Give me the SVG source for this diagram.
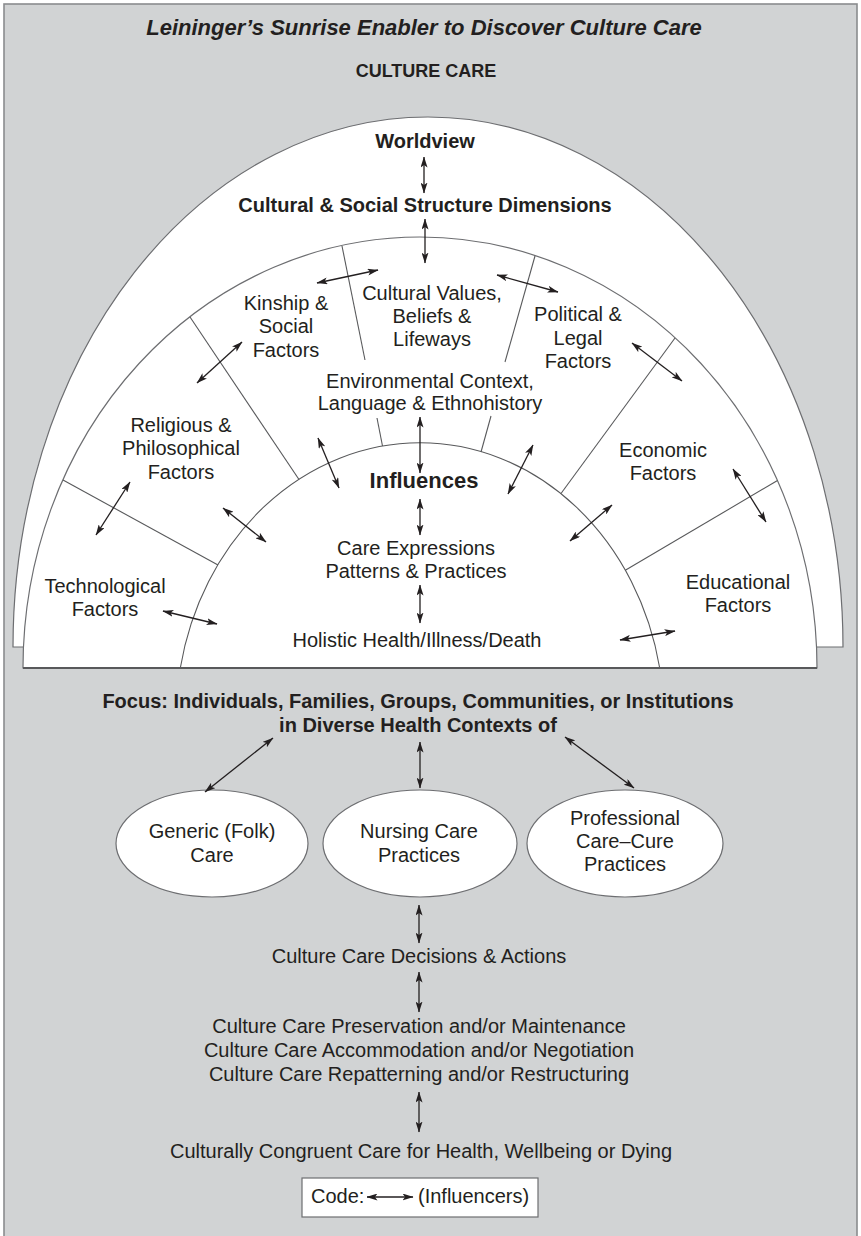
<svg xmlns="http://www.w3.org/2000/svg" width="861" height="1236" viewBox="0 0 861 1236">
<defs>
<style>
text{font-family:"Liberation Sans",Arial,Helvetica,sans-serif;fill:#231f20;text-anchor:middle}
.t{font-size:20px}
.b{font-size:20px;font-weight:bold}
.edge{fill:#fff;stroke:#6d6e71;stroke-width:1.2}
.div{fill:none;stroke:#58595b;stroke-width:1.1}
.arr{fill:none;stroke:#231f20;stroke-width:1.3;marker-start:url(#ah);marker-end:url(#ah)}
</style>
<marker id="ah" viewBox="0 0 11 7" refX="10.5" refY="3.5" markerWidth="11" markerHeight="7" markerUnits="userSpaceOnUse" orient="auto-start-reverse">
<path d="M0,0 L11,3.5 L0,7 L2.6,3.5 Z" fill="#231f20"/>
</marker>
</defs>

<rect id="frame" x="4" y="4" width="853" height="1240" fill="#d1d3d4" stroke="#8a8c8e" stroke-width="1.6"/>

<g id="title">
<text x="424" y="35" style="font-size:22px;font-weight:bold;font-style:italic">Leininger’s Sunrise Enabler to Discover Culture Care</text>
<text x="426" y="77" style="font-size:18px;font-weight:bold">CULTURE CARE</text>
</g>

<g id="sunrise">
<path class="edge" d="M13,647 A415,530 0 0 1 843,647 Z"/>
<path class="edge" d="M23,668 A397,431 0 0 1 817,668 Z"/>
<line x1="23" y1="668" x2="817" y2="668" stroke="#58595b" stroke-width="1.8"/>
<path class="div" d="M180.3,668 A244,277 0 0 1 659.7,668"/>
<g id="dividers">
<line class="div" x1="63" y1="480" x2="218" y2="565"/>
<line class="div" x1="190" y1="317" x2="299" y2="479.5"/>
<line class="div" x1="342" y1="246" x2="365" y2="360"/>
<line class="div" x1="377" y1="418" x2="382.5" y2="446"/>
<line class="div" x1="535" y1="256" x2="505" y2="362"/>
<line class="div" x1="491" y1="416" x2="481" y2="452"/>
<line class="div" x1="675" y1="338" x2="561" y2="493.5"/>
<line class="div" x1="777.5" y1="480.5" x2="625.3" y2="570.3"/>
</g>
</g>

<g id="worldview"><text class="b" x="425" y="148">Worldview</text></g>
<g id="structure"><text class="b" x="425" y="212">Cultural &amp; Social Structure Dimensions</text></g>
<g id="kinship"><text class="t" x="286" y="310">Kinship &amp;</text><text class="t" x="286" y="333">Social</text><text class="t" x="286" y="357">Factors</text></g>
<g id="values"><text class="t" x="432" y="300">Cultural Values,</text><text class="t" x="432" y="323">Beliefs &amp;</text><text class="t" x="432" y="346">Lifeways</text></g>
<g id="political"><text class="t" x="578" y="321">Political &amp;</text><text class="t" x="578" y="345">Legal</text><text class="t" x="578" y="368">Factors</text></g>
<g id="environment"><text class="t" x="430" y="388">Environmental Context,</text><text class="t" x="430" y="410">Language &amp; Ethnohistory</text></g>
<g id="religious"><text class="t" x="181" y="432">Religious &amp;</text><text class="t" x="181" y="455">Philosophical</text><text class="t" x="181" y="479">Factors</text></g>
<g id="economic"><text class="t" x="663" y="457">Economic</text><text class="t" x="663" y="480">Factors</text></g>
<g id="influences"><text x="424" y="488" style="font-size:22px;font-weight:bold">Influences</text></g>
<g id="expressions"><text class="t" x="416" y="555">Care Expressions</text><text class="t" x="416" y="578">Patterns &amp; Practices</text></g>
<g id="technological"><text class="t" x="105" y="593">Technological</text><text class="t" x="105" y="616">Factors</text></g>
<g id="educational"><text class="t" x="738" y="589">Educational</text><text class="t" x="738" y="612">Factors</text></g>
<g id="holistic"><text class="t" x="417" y="647">Holistic Health/Illness/Death</text></g>

<g id="focus"><text class="b" x="418" y="708">Focus: Individuals, Families, Groups, Communities, or Institutions</text><text class="b" x="418" y="732">in Diverse Health Contexts of</text></g>

<g id="generic"><ellipse class="edge" cx="212" cy="843.5" rx="96" ry="53.5"/><text class="t" x="212" y="838">Generic (Folk)</text><text class="t" x="212" y="862">Care</text></g>
<g id="nursing"><ellipse class="edge" cx="420" cy="843.5" rx="97" ry="53.5"/><text class="t" x="419" y="838">Nursing Care</text><text class="t" x="419" y="862">Practices</text></g>
<g id="professional"><ellipse class="edge" cx="625" cy="843.5" rx="98" ry="53.5"/><text class="t" x="625" y="825">Professional</text><text class="t" x="625" y="848">Care–Cure</text><text class="t" x="625" y="871">Practices</text></g>

<g id="decisions"><text class="t" x="419" y="963">Culture Care Decisions &amp; Actions</text></g>
<g id="modes"><text class="t" x="419" y="1033">Culture Care Preservation and/or Maintenance</text><text class="t" x="419" y="1057">Culture Care Accommodation and/or Negotiation</text><text class="t" x="419" y="1081">Culture Care Repatterning and/or Restructuring</text></g>
<g id="congruent"><text class="t" x="421" y="1158">Culturally Congruent Care for Health, Wellbeing or Dying</text></g>

<g id="code">
<rect x="302" y="1178" width="236" height="39" fill="#fff" stroke="#6d6e71" stroke-width="1.2"/>
<text class="t" x="311" y="1203" style="text-anchor:start">Code:</text>
<line class="arr" x1="367" y1="1197" x2="413" y2="1197"/>
<text class="t" x="418" y="1203" style="text-anchor:start">(Influencers)</text>
</g>

<g id="connectors">
<line class="arr" x1="424" y1="157" x2="424" y2="193"/>
<line class="arr" x1="425" y1="219" x2="425" y2="263"/>
<line class="arr" x1="420" y1="417" x2="420" y2="473"/>
<line class="arr" x1="420" y1="499" x2="420" y2="535"/>
<line class="arr" x1="420" y1="585" x2="420" y2="623"/>
<line class="arr" x1="317" y1="283" x2="378" y2="270"/>
<line class="arr" x1="497" y1="275" x2="558" y2="292"/>
<line class="arr" x1="197" y1="383" x2="242" y2="342"/>
<line class="arr" x1="632" y1="343" x2="682" y2="381"/>
<line class="arr" x1="130" y1="482" x2="96" y2="535"/>
<line class="arr" x1="733" y1="469" x2="766" y2="522"/>
<line class="arr" x1="318" y1="438" x2="339" y2="488"/>
<line class="arr" x1="223" y1="508" x2="266" y2="542"/>
<line class="arr" x1="533" y1="445" x2="508" y2="494"/>
<line class="arr" x1="612" y1="505" x2="570" y2="541"/>
<line class="arr" x1="163" y1="611" x2="217" y2="624"/>
<line class="arr" x1="620" y1="640" x2="675" y2="631"/>
<line class="arr" x1="273" y1="738" x2="205" y2="792"/>
<line class="arr" x1="420" y1="742" x2="420" y2="788"/>
<line class="arr" x1="565" y1="737" x2="634" y2="788"/>
<line class="arr" x1="419" y1="905" x2="419" y2="943"/>
<line class="arr" x1="419" y1="972" x2="419" y2="1012"/>
<line class="arr" x1="419" y1="1092" x2="419" y2="1132"/>
</g>
</svg>
